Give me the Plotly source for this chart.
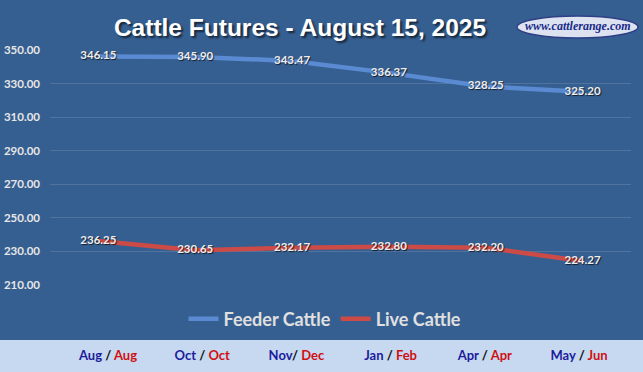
import plotly.graph_objects as go

categories = ["Aug / Aug", "Oct / Oct", "Nov/ Dec", "Jan / Feb", "Apr / Apr", "May / Jun"]
feeder_months = ["Aug", "Oct", "Nov", "Jan", "Apr", "May"]
live_months = ["Aug", "Oct", "Dec", "Feb", "Apr", "Jun"]
separators = [" / ", " / ", "/ ", " / ", " / ", " / "]
feeder = [346.15, 345.90, 343.47, 336.37, 328.25, 325.20]
live = [236.25, 230.65, 232.17, 232.80, 232.20, 224.27]
y_ticks = [210, 230, 250, 270, 290, 310, 330, 350]

BG = "#365F91"
W, H = 643, 372
L, R, T, B = 50, 12, 50, 29
plot_h = H - T - B
plot_w = W - L - R
Y_BOTTOM = 285  # pixel row of y=210

def py(px):
    return (H - B - px) / plot_h

def pxx(px):
    return (px - L) / plot_w

idx = list(range(len(categories)))
lbl_font = dict(family="Lato", size=11.5, color="#EDEDED", weight="bold",
                shadow="1px 1px 1px rgba(0,0,0,0.7)")

fig = go.Figure()
fig.add_trace(go.Scatter(
    x=idx, y=feeder, mode="lines+text", name="Feeder Cattle",
    line=dict(color="#5A8AD2", width=4.5),
    text=[f"{v:.2f}" for v in feeder], textposition="middle center",
    textfont=lbl_font, hoverinfo="skip"))
fig.add_trace(go.Scatter(
    x=idx, y=live, mode="lines+text", name="Live Cattle",
    line=dict(color="#CC4B47", width=4.5),
    text=[f"{v:.2f}" for v in live], textposition="middle center",
    textfont=lbl_font, hoverinfo="skip"))
# helper trace for bottom category axis
fig.add_trace(go.Scatter(
    x=idx, y=live, xaxis="x2", mode="none", showlegend=False, hoverinfo="skip"))

ticktext = [f"<span style='color:#1C1C9C'>{a}</span><span style='color:#111'>{s}</span><span style='color:#D01010'>{b}</span>"
            for a, s, b in zip(feeder_months, separators, live_months)]

fig.update_layout(
    width=W, height=H, margin=dict(l=L, r=R, t=T, b=B, autoexpand=False),
    paper_bgcolor=BG, plot_bgcolor="rgba(0,0,0,0)",
    title=dict(text="<b>Cattle Futures - August 15, 2025</b>", x=300 / W,
               xanchor="center", xref="container",
               y=1 - 27 / H, yanchor="middle", yref="container",
               font=dict(family="Liberation Sans", size=24.5, color="white",
                         shadow="2px 2px 2px rgba(0,0,0,0.6)")),
    xaxis=dict(range=[-0.5, 5.5], showgrid=False, showticklabels=False,
               zeroline=False, showline=False, fixedrange=True, automargin=False),
    xaxis2=dict(overlaying="x", anchor="free", position=0, side="bottom",
                range=[-0.616, 5.552], tickmode="array", tickvals=idx, ticktext=ticktext,
                showgrid=False, zeroline=False, showline=False, ticks="",
                ticklabelstandoff=3, automargin=False,
                tickfont=dict(family="Lato", size=13, weight="bold")),
    yaxis=dict(range=[210, 350], domain=[py(Y_BOTTOM), 1],
               tickvals=y_ticks, ticktext=[f"{v:.2f}" for v in y_ticks],
               showgrid=True, gridcolor="rgba(255,255,255,0.13)", gridwidth=1,
               zeroline=False, showline=False, ticks="", ticklabelstandoff=9,
               automargin=False,
               tickfont=dict(family="Lato", size=11.5, color="#E6E6E6", weight="bold")),
    legend=dict(orientation="h", x=pxx(325), xanchor="center", y=py(319), yanchor="middle",
                font=dict(family="Lato", size=18, color="#E0E0E0", weight="bold"),
                itemwidth=30, bgcolor="rgba(0,0,0,0)", traceorder="normal"),
    showlegend=True,
    shapes=[
        dict(type="rect", xref="paper", yref="paper", x0=-0.2, x1=1.2,
             y0=py(340), y1=py(H + 10), fillcolor="#C6D9F1", line=dict(width=0), layer="below"),
        dict(type="circle", xref="paper", yref="paper",
             x0=pxx(517), x1=pxx(638), y0=py(38), y1=py(16),
             fillcolor="#DCE2F0", line=dict(color="#2E3F86", width=1.5), layer="above"),
    ],
    annotations=[
        dict(text="<b><i>www.cattlerange.com</i></b>", xref="paper", yref="paper",
             x=pxx(578), y=py(26), showarrow=False, xanchor="center", yanchor="middle",
             font=dict(family="Liberation Sans Narrow", size=12, color="#1A2A88")),
    ],
)

fig.write_html("out.html", config={"displayModeBar": False},
               post_script="document.body.style.margin='0';document.body.style.padding='0';")
